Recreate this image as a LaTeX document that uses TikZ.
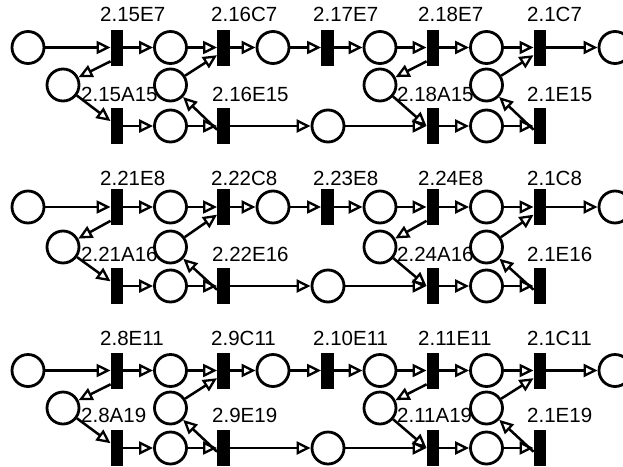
\documentclass[tikz,border=0pt]{standalone}
\usepackage{fontspec}
\setmainfont{Liberation Sans}
\usetikzlibrary{arrows.meta}

\tikzset{
  place/.style={circle, draw, line width=2.8pt, minimum size=32pt, inner sep=0pt},
  trans/.style={rectangle, fill=black, minimum width=12.5pt, minimum height=36pt, inner sep=0pt},
  arc/.style={line width=2.5pt, -{Triangle[open, length=14pt, width=13pt, line width=2.3pt]}},
  lbl/.style={anchor=west, inner sep=0pt, font=\fontsize{20.5}{24}\selectfont}
}

\begin{document}
\begin{tikzpicture}[x=1pt, y=-1pt]
  \fill[white] (0,0) rectangle (623,466);
  \useasboundingbox (0,0) rectangle (623,466);
  \clip (0,0) rectangle (623,466);

  % one subnet per row: label line, main line, middle places, middle labels, lower line
  \foreach \r/\yl/\yt/\ym/\yml/\yb/\la/\lb/\lc/\ld/\le/\ma/\mb/\mc/\md in {
    1/14/47.5/85/94/126/2.15E7/2.16C7/2.17E7/2.18E7/2.1C7/2.15A15/2.16E15/2.18A15/2.1E15,
    2/178/207/247/254/286/2.21E8/2.22C8/2.23E8/2.24E8/2.1C8/2.21A16/2.22E16/2.24A16/2.1E16,
    3/338.5/370.5/408/415/448/2.8E11/2.9C11/2.10E11/2.11E11/2.1C11/2.8A19/2.9E19/2.11A19/2.1E19}
  {
    % main line
    \node[place] (p0-\r) at (28,\yt) {};
    \node[trans] (t1-\r) at (117,\yt) {};
    \node[place] (p1-\r) at (170.5,\yt) {};
    \node[trans] (t2-\r) at (223.5,\yt) {};
    \node[place] (p2-\r) at (273,\yt) {};
    \node[trans] (t3-\r) at (327.5,\yt) {};
    \node[place] (p3-\r) at (380,\yt) {};
    \node[trans] (t4-\r) at (433,\yt) {};
    \node[place] (p4-\r) at (486.5,\yt) {};
    \node[trans] (t5-\r) at (540,\yt) {};
    \node[place] (p5-\r) at (615,\yt) {};
    % middle places
    \node[place] (qa-\r) at (63,\ym) {};
    \node[place] (qb-\r) at (170.5,\ym) {};
    \node[place] (qc-\r) at (380,\ym) {};
    \node[place] (qd-\r) at (486.5,\ym) {};
    % lower line
    \node[trans] (u1-\r) at (117,\yb) {};
    \node[place] (v1-\r) at (170.5,\yb) {};
    \node[trans] (u2-\r) at (223.5,\yb) {};
    \node[place] (v2-\r) at (328,\yb) {};
    \node[trans] (u4-\r) at (433,\yb) {};
    \node[place] (v4-\r) at (486.5,\yb) {};
    \node[trans] (u5-\r) at (540,\yb) {};

    % arcs of the main line
    \draw[arc] (p0-\r) -- (t1-\r);
    \draw[arc] (t1-\r) -- (p1-\r);
    \draw[arc] (p1-\r) -- (t2-\r);
    \draw[arc] (t2-\r) -- (p2-\r);
    \draw[arc] (p2-\r) -- (t3-\r);
    \draw[arc] (t3-\r) -- (p3-\r);
    \draw[arc] (p3-\r) -- (t4-\r);
    \draw[arc] (t4-\r) -- (p4-\r);
    \draw[arc] (p4-\r) -- (t5-\r);
    \draw[arc] (t5-\r) -- (p5-\r);
    % arcs of the lower line
    \draw[arc] (u1-\r) -- (v1-\r);
    \draw[arc] (v1-\r) -- (u2-\r);
    \draw[arc] (u2-\r) -- (v2-\r);
    \draw[arc] (v2-\r) -- (u4-\r);
    \draw[arc] (u4-\r) -- (v4-\r);
    \draw[arc] (v4-\r) -- (u5-\r);
    % arcs through the middle places
    \draw[arc] (t1-\r.-115) -- (qa-\r);
    \draw[arc] (qa-\r) -- (u1-\r);
    \draw[arc] (qb-\r) -- (t2-\r.-130);
    \draw[arc] (u2-\r.-150) -- (qb-\r);
    \draw[arc] (t4-\r.-115) -- (qc-\r);
    \draw[arc] (qc-\r) -- (u4-\r.west);
    \draw[arc] (qd-\r) -- (t5-\r.-130);
    \draw[arc] (u5-\r.-150) -- (qd-\r);

    % transition labels
    \node[lbl] (la-\r) at (100,\yl) {\la};
    \node[lbl] (lb-\r) at (211,\yl) {\lb};
    \node[lbl] (lc-\r) at (313,\yl) {\lc};
    \node[lbl] (ld-\r) at (418,\yl) {\ld};
    \node[lbl] (le-\r) at (527,\yl) {\le};
    \node[lbl] (ma-\r) at (81,\yml) {\ma};
    \node[lbl] (mb-\r) at (212,\yml) {\mb};
    \node[lbl] (mc-\r) at (397,\yml) {\mc};
    \node[lbl] (md-\r) at (527,\yml) {\md};
  }
\end{tikzpicture}
\end{document}
